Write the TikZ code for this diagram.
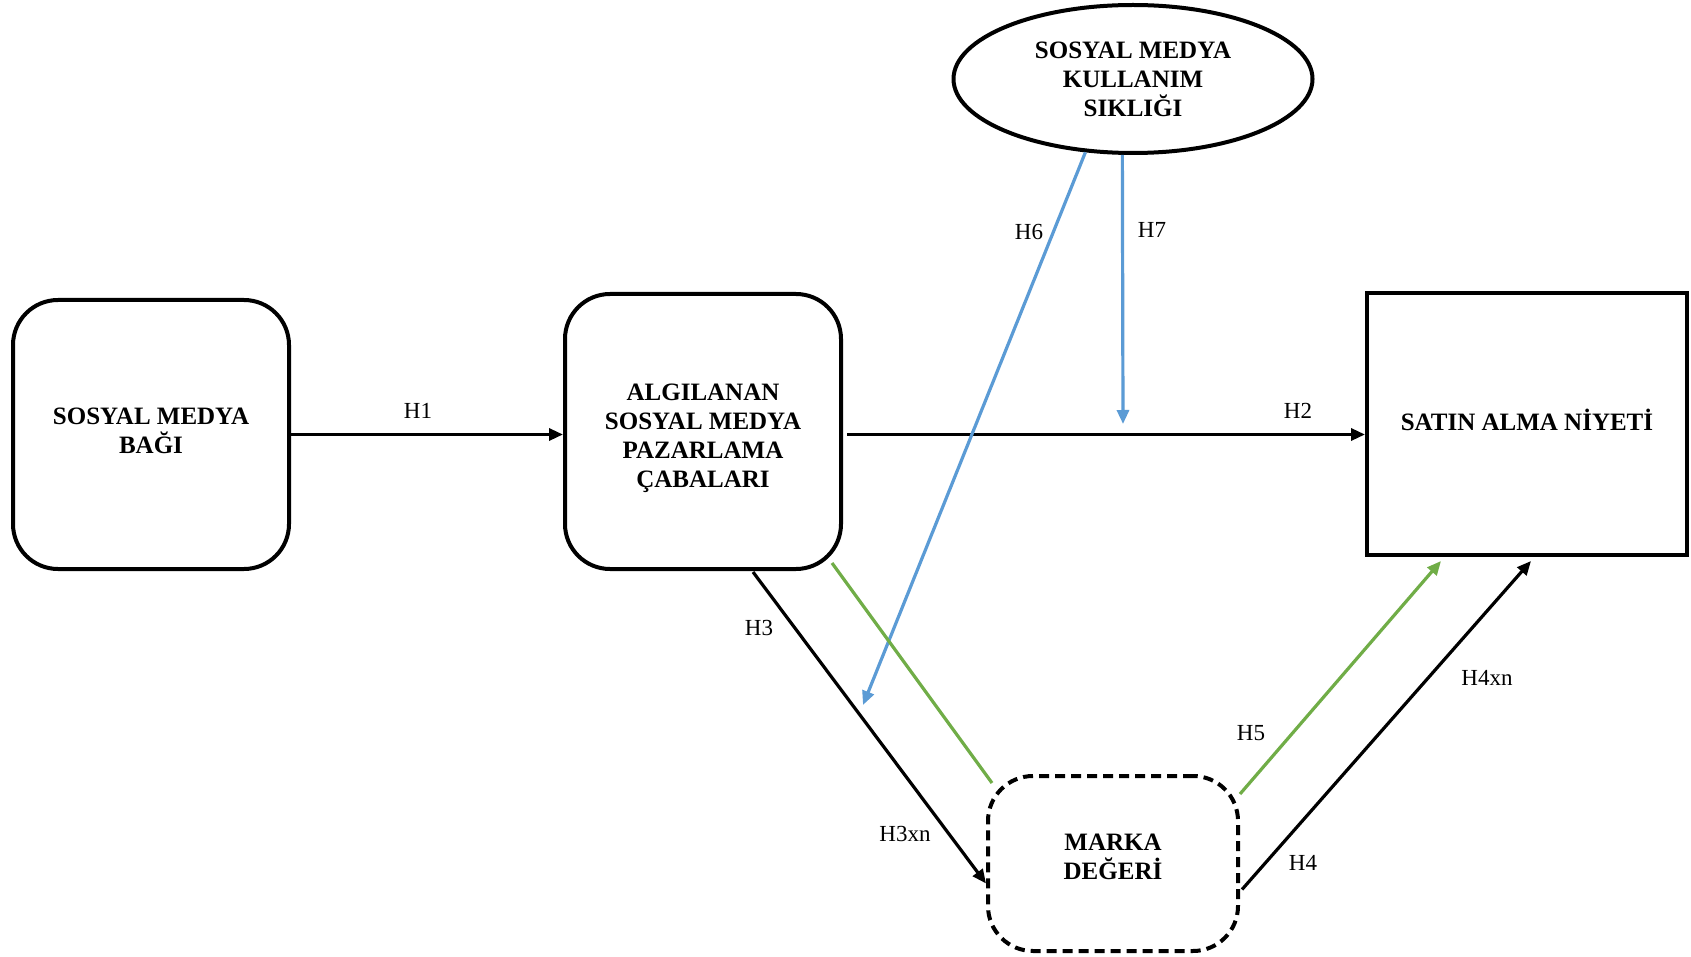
\documentclass[tikz,border=0pt]{standalone}
\usepackage{fontspec}
\setmainfont{Liberation Serif}
\usetikzlibrary{shapes.geometric,arrows.meta,calc}
\definecolor{myblue}{HTML}{5B9BD5}
\definecolor{mygreen}{HTML}{70AD47}
\begin{document}
\begin{tikzpicture}[x=1pt,y=-1pt,
  boxtxt/.style={font=\fontsize{25}{29}\selectfont\bfseries, align=center, inner sep=0pt},
  rbox/.style={draw, line width=4pt, rounded corners=45pt},
  lbl/.style={font=\fontsize{23}{27}\selectfont, inner sep=0pt},
  arr/.style={line width=3.2pt, -{Triangle[length=14pt,width=12pt]}},
  blarr/.style={arr, draw=myblue},
  grarr/.style={arr, draw=mygreen},
]
\useasboundingbox (0,0) rectangle (1691,957);
\fill[white] (0,0) rectangle (1691,957);

\node[rbox, minimum width=276pt, minimum height=269pt] (left) at (151,434.5) {};
\node[boxtxt] (lefttxt) at ($(left.center)+(0,-4)$) {SOSYAL MEDYA\\BAĞI};
\node[rbox, minimum width=276pt, minimum height=275pt] (mid) at (703,431.5) {};
\node[boxtxt] (midtxt) at ($(mid.center)+(0,7)$) {ALGILANAN\\SOSYAL MEDYA\\PAZARLAMA\\ÇABALARI};
\node[draw, line width=4pt, minimum width=320pt, minimum height=262pt] (right) at (1527,424) {};
\node[boxtxt] (righttxt) at ($(right.center)+(0,-4)$) {SATIN ALMA NİYETİ};
\node[boxtxt, draw, line width=4pt, ellipse, minimum width=359pt, minimum height=148pt] (ell) at (1133,79) {SOSYAL MEDYA\\KULLANIM\\SIKLIĞI};
\node[rbox, dash pattern=on 10pt off 6pt, minimum width=250pt, minimum height=175pt] (marka) at (1113,863.5) {};
\node[boxtxt] (markatxt) at ($(marka.center)+(0,-7)$) {MARKA\\DEĞERİ};

\coordinate (h7end) at (1123,424);
\coordinate (h6end) at (863,705);
\coordinate (h2s) at ($(mid.east)+(4,3)$);

% H1
\draw[arr] (left.east) -- (left.east -| mid.west);
% H2
\draw[arr] (h2s) -- (h2s -| right.west);
% H7
\draw[blarr] (ell.262) -- (h7end);
% H6
\draw[blarr] (ell.237) -- (h6end);
% H3
\draw[arr] ($(mid.south)+(50,1)$) -- ($(marka.west)+(0,20)$);
% green (no head)
\draw[line width=3.2pt, mygreen] ($(mid.south east)+(-11,-8)$) -- ($(marka.north west)+(6,9)$);
% H5
\draw[grarr] ($(marka.north east)+(0,20)$) -- ($(right.south west)+(76,4)$);
% H4
\draw[arr] ($(marka.east)+(2,26)$) -- ($(right.south)+(4,4)$);

\node[lbl] (l1) at (418,411) {H1};
\node[lbl] (l2) at (1298,411) {H2};
\node[lbl] (l6) at (1029,232) {H6};
\node[lbl] (l7) at (1152,230) {H7};
\node[lbl] (l3) at (759,628) {H3};
\node[lbl] (l3xn) at (905,834) {H3xn};
\node[lbl] (l5) at (1251,733) {H5};
\node[lbl] (l4xn) at (1487,678) {H4xn};
\node[lbl] (l4) at (1303,863) {H4};
\end{tikzpicture}
\end{document}
